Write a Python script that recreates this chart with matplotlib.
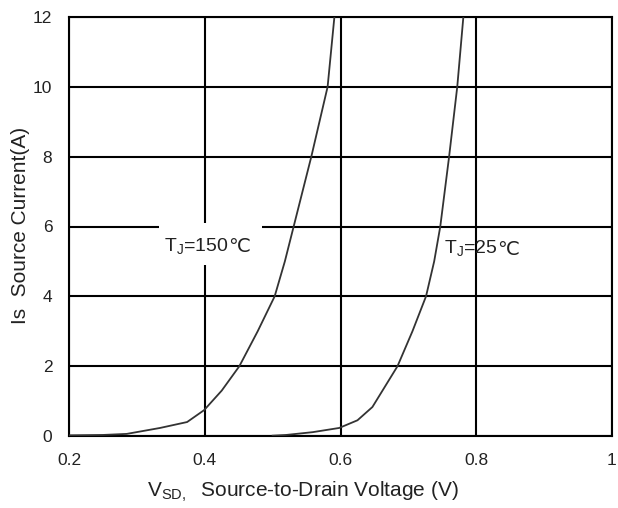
import matplotlib
matplotlib.use("Agg")
import matplotlib.pyplot as plt
from matplotlib.patches import Rectangle

plt.rcParams['font.family'] = ['Liberation Sans', 'DejaVu Sans']
plt.rcParams['mathtext.fontset'] = 'custom'
plt.rcParams['mathtext.rm'] = 'Liberation Sans'

# Source-drain diode forward voltage (V) vs source current (A)
v_150 = [0.20, 0.25, 0.285, 0.334, 0.374, 0.399, 0.425, 0.451, 0.478, 0.503, 0.518, 0.531, 0.557, 0.581, 0.591]
i_150 = [0.02, 0.03, 0.06, 0.23, 0.40, 0.74, 1.3, 2.0, 3.0, 4.0, 5.0, 6.0, 8.0, 10.0, 12.0]

v_25 = [0.50, 0.52, 0.559, 0.598, 0.625, 0.647, 0.684, 0.706, 0.726, 0.738, 0.747, 0.760, 0.772, 0.781]
i_25 = [0.01, 0.03, 0.11, 0.23, 0.45, 0.83, 2.0, 3.0, 4.0, 5.0, 6.0, 8.0, 10.0, 12.0]

x_ticks = [0.2, 0.4, 0.6, 0.8, 1.0]
x_ticklabels = ["0.2", "0.4", "0.6", "0.8", "1"]
y_ticks = [0, 2, 4, 6, 8, 10, 12]

fig = plt.figure(figsize=(6.18, 5.08), dpi=100)
ax = fig.add_axes([69/618, 1-436/508, (612-69)/618, (436-17)/508])

ax.plot(v_150, i_150, color='#333333', lw=1.3, zorder=3)
ax.plot(v_25, i_25, color='#333333', lw=1.3, zorder=3)

ax.set_xlim(0.2, 1.0)
ax.set_ylim(0, 12)
ax.set_xticks(x_ticks)
ax.set_xticklabels(x_ticklabels)
ax.set_yticks(y_ticks)
ax.grid(True, color='black', lw=1.5)
ax.set_axisbelow(True)
for s in ax.spines.values():
    s.set_color('black')
    s.set_linewidth(1.5)
ax.tick_params(length=0, labelsize=12.5, labelcolor='#222222')
ax.tick_params(axis='y', pad=12)
ax.tick_params(axis='x', pad=12)

# white box behind the 150 C label (covers grid lines)
ax.add_patch(Rectangle((0.332, 4.9), 0.153, 1.2, facecolor='white', edgecolor='none', zorder=2.5))
t1 = ax.text(0.34, 5.42, r"T$_\mathregular{J}$=150", fontsize=14, ha='left', va='center',
             color='#222222', zorder=5)
ax.annotate("℃", xy=(1, 0.5), xycoords=t1, xytext=(-0.5, 0), textcoords='offset points',
            ha='left', va='center', fontsize=14, family='DejaVu Sans', color='#222222', zorder=5)

t2 = ax.text(0.752, 5.35, r"T$_\mathregular{J}$=25", fontsize=14, ha='left', va='center',
             color='#222222', zorder=5)
ax.annotate("℃", xy=(1, 0.5), xycoords=t2, xytext=(-0.5, 0), textcoords='offset points',
            ha='left', va='center', fontsize=14, family='DejaVu Sans', color='#222222', zorder=5)

fig.text(21/618, 1-225/508, "Is  Source Current(A)", rotation=90, ha='center', va='center',
         fontsize=15, color='#222222')
fig.text(303/618, 1-492/508, r"V$_\mathregular{SD,}$  Source-to-Drain Voltage (V)", ha='center', va='center',
         fontsize=15, color='#222222')

fig.savefig("out.png", dpi=100)
